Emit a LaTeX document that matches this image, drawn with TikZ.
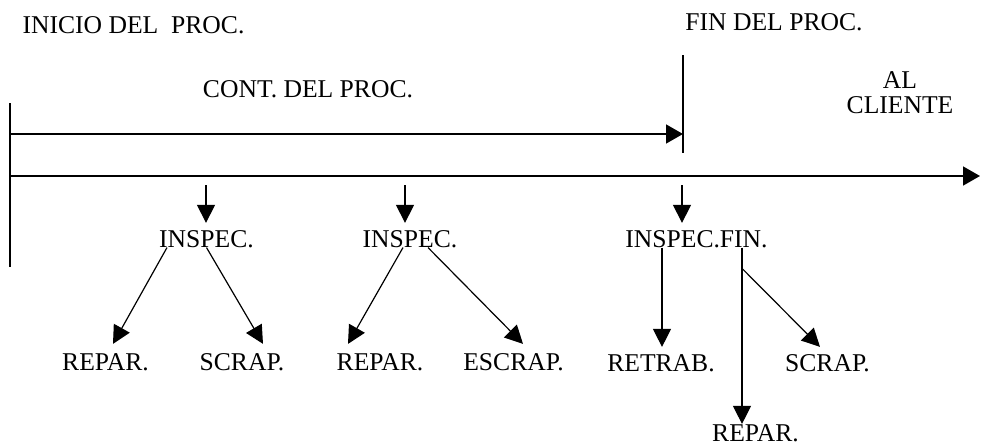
\documentclass[tikz,border=0pt]{standalone}
\usepackage{fontspec}
\setmainfont{Liberation Serif}
\usetikzlibrary{arrows.meta}

\newcommand{\varfs}{\fontsize{25.6}{25}\selectfont}

\begin{document}
\begin{tikzpicture}[x=1pt, y=1pt,
	lbl/.style={inner sep=0pt, anchor=base, font=\varfs},
	arr/.style={line width=1.2pt, -{Triangle[length=18pt, width=18pt]}},
	axis/.style={line width=1.6pt}]

	\useasboundingbox (0,0) rectangle (987,-445);

	% labels on top
	\node [lbl] (inicio) at (133.5,-33) {INICIO DEL\ \ PROC.};
	\node [lbl] (cont) at (308,-97) {CONT. DEL PROC.};
	\node [lbl] (fin) at (774,-30) {FIN DEL PROC.};
	\node [lbl, align=center] (cliente) at (900,-113) {AL\\CLIENTE};

	% lines
	\coordinate (l1) at (10,-103);
	\coordinate (l2) at (10,-267);
	\coordinate (c0) at (10,-134);
	\coordinate (t0) at (10,-176);
	\coordinate (t1) at (980,-176);
	\coordinate (f1) at (683,-55);
	\coordinate (f2) at (683,-153);
	\draw [axis] (l1) -- (l2);
	\draw [axis] (f1) -- (f2);
	\draw [axis, -{Triangle[length=17pt, width=19pt]}] (c0) -- (c0 -| f1);
	\draw [axis, -{Triangle[length=17pt, width=19pt]}] (t0) -- (t1);

	% inspections
	\node [lbl] (insA) at (206.5,-247) {INSPEC.};
	\node [lbl] (insB) at (410,-247) {INSPEC.};
	\node [lbl] (insF) at (696.5,-247) {INSPEC.FIN.};

	\coordinate (dA) at (206,-185);
	\coordinate (dB) at (405,-185);
	\coordinate (dF) at (682,-185);
	\draw [arr] (dA) -- ([yshift=7]insA.north -| dA);
	\draw [arr] (dB) -- ([yshift=7]insB.north -| dB);
	\draw [arr] (dF) -- ([yshift=7]insF.north -| dF);

	% results
	\node [lbl] (repA) at (105.5,-370) {REPAR.};
	\node [lbl] (scrA) at (242,-370) {SCRAP.};
	\node [lbl] (repB) at (380,-370) {REPAR.};
	\node [lbl] (escB) at (513.5,-370) {ESCRAP.};
	\node [lbl] (retF) at (661,-371) {RETRAB.};
	\node [lbl] (scrF) at (827.5,-371) {SCRAP.};
	\node [lbl] (repF) at (755.5,-441) {REPAR.};

	\draw [arr] ([xshift=-39.5]insA.south) -- ([shift={(7.5,9)}]repA.north);
	\draw [arr] ([xshift=0]insA.south) -- ([shift={(21,9)}]scrA.north);
	\draw [arr] ([xshift=-7]insB.south) -- ([shift={(-32,9)}]repB.north);
	\draw [arr] ([xshift=18]insB.south) -- ([shift={(9.5,9)}]escB.north);
	\draw [arr] ([xshift=-34.5]insF.south) -- ([shift={(1,7)}]retF.north);
	\draw [arr] ([xshift=45.5]insF.south) -- coordinate [pos=0.118] (brF) ([shift={(-13.5,0)}]repF.north);
	\draw [arr] (brF) -- ([shift={(-7.5,7)}]scrF.north);

\end{tikzpicture}
\end{document}
